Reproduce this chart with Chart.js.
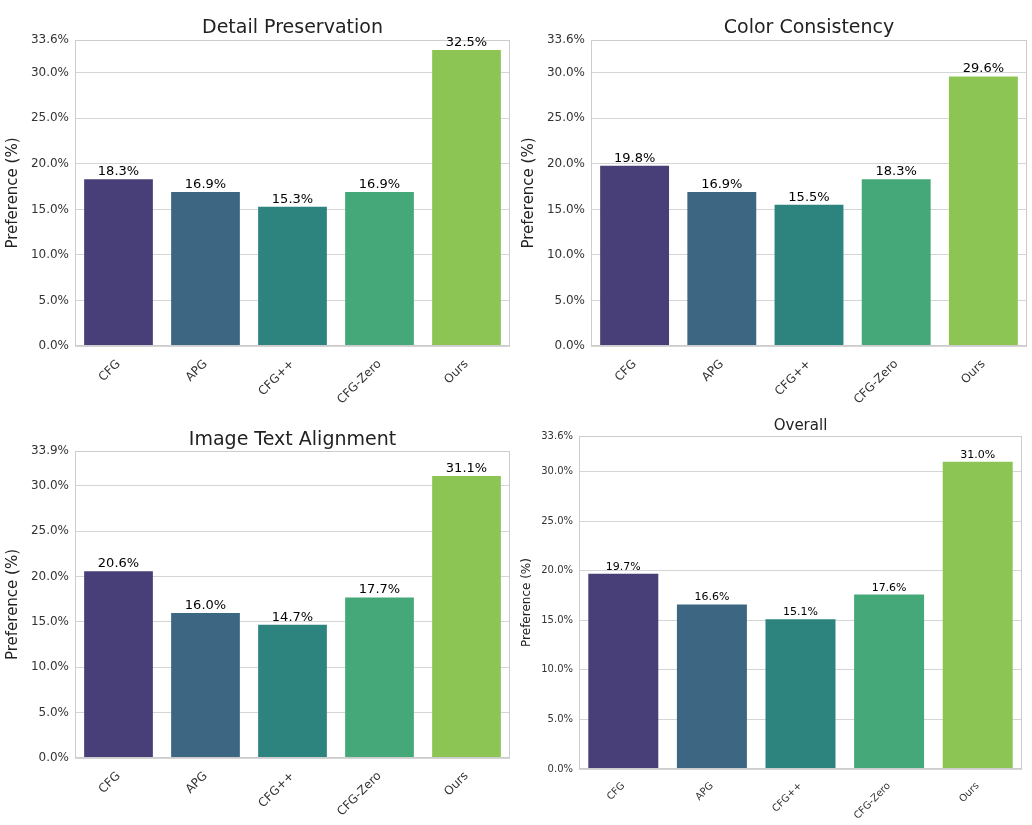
<!DOCTYPE html>
<html>
<head>
<meta charset="utf-8">
<script src="https://cdn.jsdelivr.net/npm/chart.js@4.4.0/dist/chart.umd.min.js"></script>
<style>
  body { margin: 0; background: #fff; width: 1032px; height: 825px; position: relative; overflow: hidden; }
  canvas { position: absolute; }
</style>
</head>
<body>
<canvas id="c1" style="left:0;top:0;width:516px;height:412px"></canvas>
<canvas id="c2" style="left:516px;top:0;width:516px;height:412px"></canvas>
<canvas id="c3" style="left:0;top:412px;width:516px;height:413px"></canvas>
<canvas id="c4" style="left:516px;top:412px;width:516px;height:413px"></canvas>
<script>
  // Data.
  const methods = [ 'CFG', 'APG', 'CFG++', 'CFG-Zero', 'Ours' ];
  const detailValues = [ 18.3, 16.9, 15.3, 16.9, 32.5 ];
  const colorValues = [ 19.8, 16.9, 15.5, 18.3, 29.6 ];
  const alignValues = [ 20.6, 16.0, 14.7, 17.7, 31.1 ];
  const overallValues = [ 19.7, 16.6, 15.1, 17.6, 31.0 ];
  const barColors = [ '#483e78', '#3c6682', '#2d847f', '#45a878', '#8dc555' ];
  const FONT = "'DejaVu Sans', sans-serif";

  // Title, frame and value labels drawn on top of the bars.
  const decorPlugin = {
    id: 'decor',
    afterDraw( chart, args, opts ) {
      const ctx = chart.ctx;
      const a = chart.chartArea;
      ctx.save();
      ctx.strokeStyle = '#cccccc';
      ctx.lineWidth = 1;
      ctx.strokeRect( a.left + 0.5, a.top + 0.5, a.right - a.left - 1, a.bottom - a.top - 1 );
      ctx.fillStyle = '#222';
      ctx.textAlign = 'center';
      ctx.textBaseline = 'alphabetic';
      ctx.font = opts.titleSize + 'px ' + FONT;
      ctx.fillText( opts.title, ( a.left + a.right ) / 2, opts.titleY );
      ctx.font = opts.labelSize + 'px ' + FONT;
      ctx.fillStyle = '#000';
      const meta = chart.getDatasetMeta( 0 );
      meta.data.forEach( function ( bar, i ) {
        ctx.fillText( chart.data.datasets[ 0 ].data[ i ].toFixed( 1 ) + '%', bar.x, bar.y - 4 );
      } );
      ctx.restore();
    }
  };

  function makeChart( id, values, cfg ) {
    new Chart( document.getElementById( id ), {
      type: 'bar',
      data: {
        labels: methods,
        datasets: [ { data: values, backgroundColor: barColors, barPercentage: 0.79, categoryPercentage: 1 } ]
      },
      plugins: [ decorPlugin ],
      options: {
        responsive: false,
        animation: false,
        devicePixelRatio: 1,
        layout: { padding: { top: cfg.top, right: cfg.right, left: 0, bottom: 0 } },
        plugins: {
          legend: { display: false },
          tooltip: { enabled: false },
          decor: { title: cfg.title, titleY: cfg.titleY, titleSize: cfg.titleSize, labelSize: cfg.labelSize }
        },
        scales: {
          x: {
            grid: { display: false },
            border: { display: false },
            ticks: { color: '#333', font: { family: FONT, size: cfg.tickSize }, minRotation: 45, maxRotation: 45 },
            afterFit: function ( s ) { s.height = cfg.xHeight; }
          },
          y: {
            min: 0,
            max: cfg.max,
            grid: { color: '#d5d5d5', drawTicks: false },
            border: { display: false },
            ticks: {
              stepSize: 5,
              padding: 6,
              color: '#333',
              font: { family: FONT, size: cfg.tickSize },
              callback: function ( v ) { return v.toFixed( 1 ) + '%'; }
            },
            title: { display: true, text: 'Preference (%)', color: '#222', font: { family: FONT, size: cfg.axisSize } },
            afterFit: function ( s ) { s.width = cfg.yWidth; }
          }
        }
      }
    } );
  }

  function size( id, w, h ) {
    const c = document.getElementById( id );
    c.width = w; c.height = h;
  }
  size( 'c1', 516, 412 ); size( 'c2', 516, 412 ); size( 'c3', 516, 413 ); size( 'c4', 516, 413 );

  makeChart( 'c1', detailValues, { title: 'Detail Preservation', titleY: 33, titleSize: 19, labelSize: 13, tickSize: 12, axisSize: 15,
    top: 40, right: 6, yWidth: 75, xHeight: 66, max: 33.6 } );
  makeChart( 'c2', colorValues, { title: 'Color Consistency', titleY: 33, titleSize: 19, labelSize: 13, tickSize: 12, axisSize: 15,
    top: 40, right: 5, yWidth: 75, xHeight: 66, max: 33.6 } );
  makeChart( 'c3', alignValues, { title: 'Image Text Alignment', titleY: 33, titleSize: 19, labelSize: 13, tickSize: 12, axisSize: 15,
    top: 39, right: 6, yWidth: 75, xHeight: 67, max: 33.85 } );
  makeChart( 'c4', overallValues, { title: 'Overall', titleY: 18, titleSize: 15, labelSize: 11, tickSize: 10, axisSize: 12,
    top: 24, right: 10, yWidth: 63, xHeight: 56, max: 33.6 } );
</script>
</body>
</html>
